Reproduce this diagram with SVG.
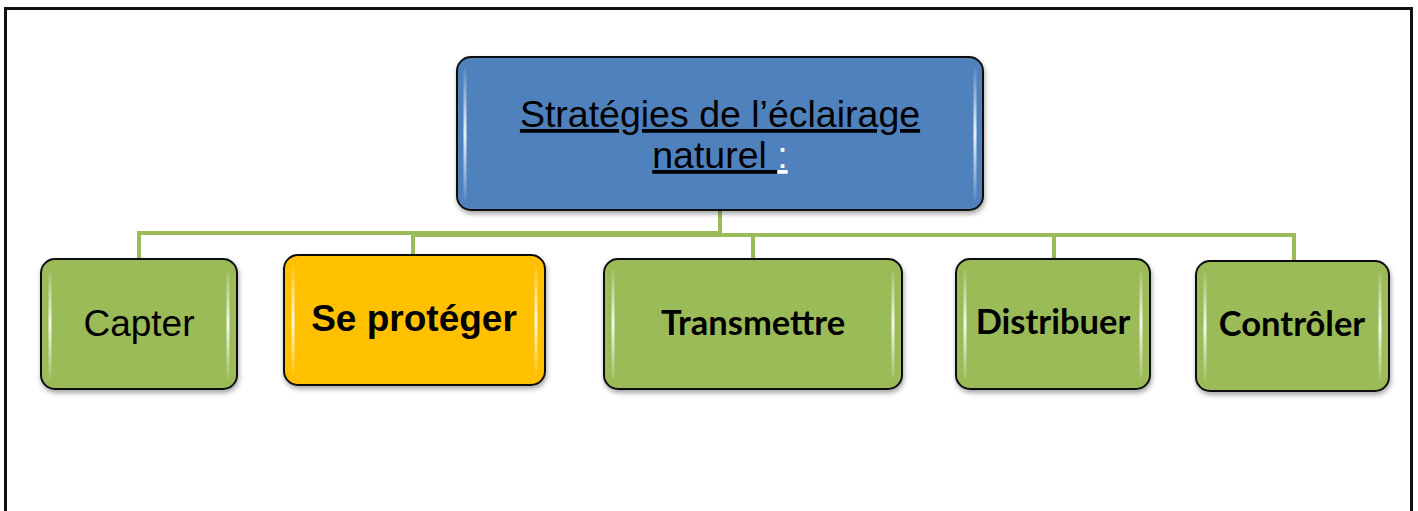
<svg xmlns="http://www.w3.org/2000/svg" width="1418" height="511" viewBox="0 0 1418 511">
<defs>
<filter id="sh" x="-10%" y="-10%" width="120%" height="130%">
<feDropShadow dx="1" dy="3" stdDeviation="2.5" flood-color="#000" flood-opacity="0.35"/>
</filter>
<linearGradient id="hl" x1="0" y1="0" x2="0" y2="1">
<stop offset="0" stop-color="#fff" stop-opacity="0.1"/>
<stop offset="0.5" stop-color="#fff" stop-opacity="0.9"/>
<stop offset="1" stop-color="#fff" stop-opacity="0.1"/>
</linearGradient>
</defs>
<style>
.frame{fill:none;stroke:#111;stroke-width:3}
.box{stroke:#111;stroke-width:2;filter:url(#sh)}
.g{fill:#9BBB59}
.b{fill:#4F81BD}
.o{fill:#FFC000}
.hl{stroke:url(#hl);stroke-width:3;fill:none;stroke-linecap:round}
.con{fill:none;stroke:#9BBB59;stroke-width:4}
.t{font-family:"Liberation Sans",Arial,sans-serif;fill:#000;text-anchor:middle}
.c{font-family:Lato,"Open Sans",sans-serif;font-weight:bold;fill:#000;text-anchor:middle}
</style>
<rect width="1418" height="511" fill="#fff"/>
<path class="frame" d="M5.5 520 V8.5 H1411.5 V520"/>
<g id="connectors">
<path class="con" d="M720 210 V234"/>
<path class="con" d="M139 258 V233 H720"/>
<path class="con" d="M413 254 V235 H1294 V260"/>
<path class="con" d="M753 258 V235"/>
<path class="con" d="M1054 258 V235"/>
</g>
<g id="root">
<rect class="box b" x="457" y="57" width="526" height="153" rx="14"/>
<path class="hl" d="M465 70 V198 M975 70 V198"/>
<text class="t" font-size="37.5" x="720" y="127" text-decoration="underline">Stratégies de l’éclairage</text>
<text class="t" font-size="37.5" x="720" y="168"><tspan text-decoration="underline">naturel </tspan><tspan fill="#fff" text-decoration="underline">:</tspan></text>
</g>
<g id="capter">
<rect class="box g" x="41" y="259" width="196" height="130" rx="14"/>
<path class="hl" d="M50 272 V377 M228 272 V377"/>
<text class="t" font-size="37" x="139" y="336">Capter</text>
</g>
<g id="proteger">
<rect class="box o" x="284" y="255" width="261" height="130" rx="14"/>
<path class="hl" d="M293 268 V373 M536 268 V373"/>
<text class="t" font-size="37" font-weight="bold" x="414" y="331">Se protéger</text>
</g>
<g id="transmettre">
<rect class="box g" x="604" y="259" width="298" height="130" rx="14"/>
<path class="hl" d="M613 272 V377 M893 272 V377"/>
<text class="c" font-size="34.5" x="753" y="335">Transmettre</text>
</g>
<g id="distribuer">
<rect class="box g" x="956" y="259" width="194" height="130" rx="14"/>
<path class="hl" d="M965 272 V377 M1141 272 V377"/>
<text class="c" font-size="34.5" x="1053" y="334">Distribuer</text>
</g>
<g id="controler">
<rect class="box g" x="1196" y="261" width="193" height="130" rx="14"/>
<path class="hl" d="M1205 274 V379 M1380 274 V379"/>
<text class="c" font-size="34.5" x="1292" y="336">Contrôler</text>
</g>
</svg>
